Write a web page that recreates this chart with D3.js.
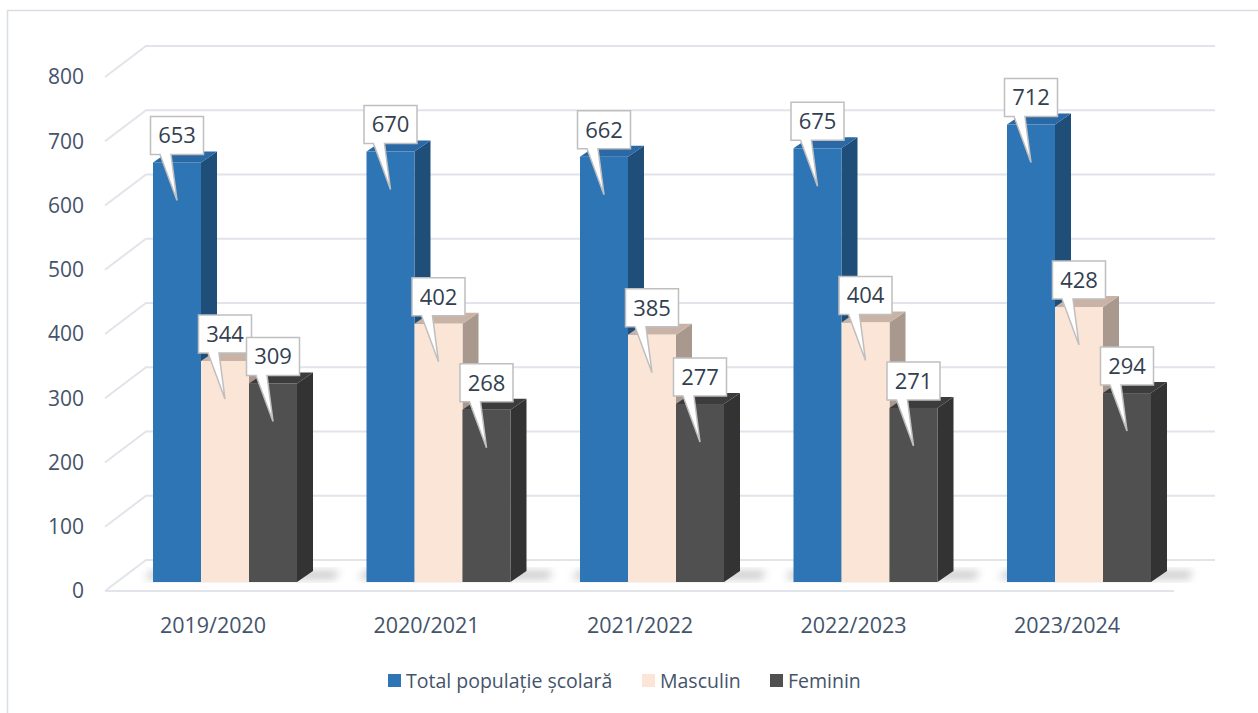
<!DOCTYPE html>
<html>
<head>
<meta charset="utf-8">
<script src="https://cdn.jsdelivr.net/npm/d3@7"></script>
<style>
  body { margin: 0; background: #fff; }
  text { font-family: "Open Sans", sans-serif; fill: #44546A; }
</style>
</head>
<body>
<div id="chart"></div>
<script>
// chart data
const years = ["2019/2020", "2020/2021", "2021/2022", "2022/2023", "2023/2024"];
const seriesNames = ["Total populație școlară", "Masculin", "Feminin"];
const total = [653, 670, 662, 675, 712];
const masculin = [344, 402, 385, 404, 428];
const feminin = [309, 268, 277, 271, 294];
const yTicks = [0, 100, 200, 300, 400, 500, 600, 700, 800];

const values = [total, masculin, feminin];
const colors = [
    {front: "#2E75B6", side: "#1F4E79", top: "#2A69A5"},
    {front: "#FBE5D6", side: "#A8988E", top: "#C9B3A6"},
    {front: "#505050", side: "#333333", top: "#3C3C3C"}
];

let width = 1258, height = 713;
let svg = d3.select("#chart")
    .append("svg")
    .attr("width", width)
    .attr("height", height);

// chart border
svg.append("rect")
    .attr("x", 7.5).attr("y", 10.5)
    .attr("width", 1262).attr("height", 720)
    .attr("fill", "none")
    .attr("stroke", "#D9DDE4")
    .attr("stroke-width", 1.5);

let defs = svg.append("defs");
defs.append("filter").attr("id", "blur")
    .attr("x", "-50%").attr("y", "-50%").attr("width", "200%").attr("height", "200%")
    .append("feGaussianBlur").attr("stdDeviation", 4);

// front y scale (axis labels / front of floor)
let y = d3.scaleLinear().domain([0, 800]).range([591, 77]);
let wallDx = 41, wallDy = -31;   // depth of the back wall
let barLift = 9;                 // bars stand a bit behind the front edge
let depthDx = 16, depthDy = -11; // bar 3d depth
let frontX = 105, backRight = 1215;

// gridlines
let grid = svg.append("g");
yTicks.forEach(function (v) {
    let yf = y(v), yb = y(v) + wallDy;
    grid.append("path")
        .attr("d", "M" + frontX + "," + yf + "L" + (frontX + wallDx) + "," + yb + "H" + backRight)
        .attr("fill", "none")
        .attr("stroke", "#E1E4EA")
        .attr("stroke-width", 2);
});
// front edge of floor
grid.append("line")
    .attr("x1", frontX).attr("x2", backRight - wallDx)
    .attr("y1", y(0)).attr("y2", y(0))
    .attr("stroke", "#E1E4EA")
    .attr("stroke-width", 2);

// y axis labels
svg.append("g").selectAll("text")
    .data(yTicks)
    .enter().append("text")
    .attr("x", 84)
    .attr("y", function (d) { return y(d); })
    .attr("dy", "0.35em")
    .attr("text-anchor", "end")
    .attr("font-size", "21px")
    .text(function (d) { return d; });

// x scales
let x0 = d3.scaleBand().domain(years).range([118.25, 1185.75]);
let groupW = 144;
let x1 = d3.scaleBand().domain(seriesNames).range([0, groupW]);

function groupStart(year) {
    return x0(year) + (x0.bandwidth() - groupW) / 2;
}

// category labels
svg.append("g").selectAll("text")
    .data(years)
    .enter().append("text")
    .attr("x", function (d) { return x0(d) + x0.bandwidth() / 2 - 12; })
    .attr("y", 625)
    .attr("dy", "0.35em")
    .attr("text-anchor", "middle")
    .attr("font-size", "21.5px")
    .text(function (d) { return d; });

let base = y(0) - barLift;

// soft shadows at bar bases
let shadows = svg.append("g").attr("filter", "url(#blur)");
years.forEach(function (yr) {
    let gx = groupStart(yr);
    shadows.append("path")
        .attr("d", "M" + (gx - 8) + "," + (base - 3) +
            "L" + (gx + groupW + depthDx + 22) + "," + (base - 3) +
            "L" + (gx + groupW + depthDx + 26) + "," + (base + depthDy) +
            "L" + (gx - 2) + "," + (base + depthDy) + "Z")
        .attr("fill", "#000")
        .attr("opacity", 0.22);
});

// 3d bars
let bars = svg.append("g");
years.forEach(function (yr, i) {
    seriesNames.forEach(function (s, j) {
        let v = values[j][i];
        let bx = groupStart(yr) + x1(s);
        let bw = x1.bandwidth();
        let top = y(v) - barLift;
        let c = colors[j];
        // side face
        bars.append("path")
            .attr("d", "M" + (bx + bw) + "," + top +
                "L" + (bx + bw + depthDx) + "," + (top + depthDy) +
                "V" + (base + depthDy) +
                "L" + (bx + bw) + "," + base + "Z")
            .attr("fill", c.side);
        // top face
        bars.append("path")
            .attr("d", "M" + bx + "," + top +
                "L" + (bx + depthDx) + "," + (top + depthDy) +
                "H" + (bx + bw + depthDx) +
                "L" + (bx + bw) + "," + top + "Z")
            .attr("fill", c.top);
        // front face
        bars.append("rect")
            .attr("x", bx).attr("y", top)
            .attr("width", bw).attr("height", base - top)
            .attr("fill", c.front);
    });
});

// callout data labels
let labels = svg.append("g");
let boxW = 53, boxH = 38, tail = 46;
years.forEach(function (yr, i) {
    seriesNames.forEach(function (s, j) {
        let v = values[j][i];
        let cx = groupStart(yr) + x1(s) + x1.bandwidth() / 2;
        let by = y(v) - barLift - 8 - boxH;
        let bx = cx - boxW / 2;
        let bb = by + boxH;
        labels.append("path")
            .attr("d", "M" + bx + "," + by + "H" + (bx + boxW) + "V" + bb +
                "H" + (cx - 6) + "L" + cx + "," + (bb + tail) +
                "L" + (cx - 17) + "," + bb + "H" + bx + "Z")
            .attr("fill", "#fff")
            .attr("stroke", "#BFBFBF")
            .attr("stroke-width", 1.5);
        labels.append("text")
            .attr("x", cx)
            .attr("y", by + boxH / 2)
            .attr("dy", "0.36em")
            .attr("text-anchor", "middle")
            .attr("font-size", "22px")
            .style("fill", "#333F50")
            .text(v);
    });
});

// legend
let legendX = [388, 642, 770];
let legend = svg.append("g");
seriesNames.forEach(function (s, j) {
    legend.append("rect")
        .attr("x", legendX[j]).attr("y", 674)
        .attr("width", 13).attr("height", 13)
        .attr("fill", colors[j].front);
    legend.append("text")
        .attr("x", legendX[j] + 18)
        .attr("y", 681)
        .attr("dy", "0.35em")
        .attr("font-size", "19.5px")
        .text(s);
});
</script>
</body>
</html>
